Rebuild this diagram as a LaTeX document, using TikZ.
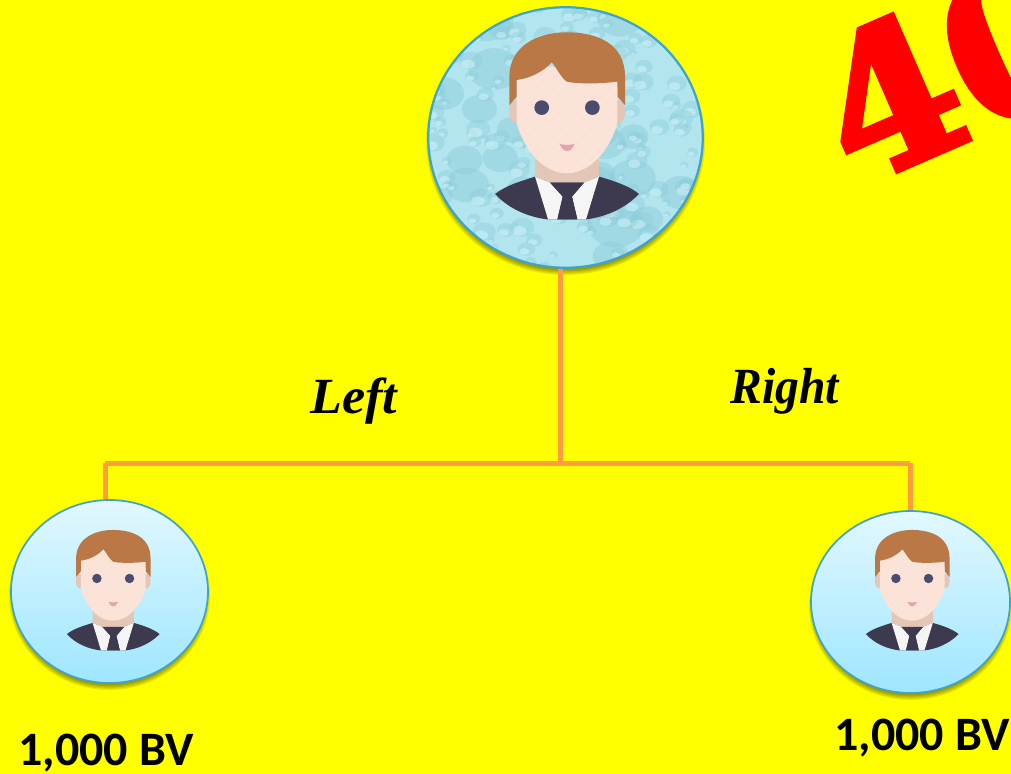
\documentclass[tikz,border=0pt]{standalone}
\usepackage{fontspec}
\usetikzlibrary{shapes.geometric}
\setmainfont{Liberation Serif}
\newfontfamily\bvfont{Carlito}
\newfontfamily\redfont[FakeBold=3]{DejaVu Serif}
\definecolor{pagey}{HTML}{FFFF00}
\definecolor{linkc}{HTML}{FF9C40}
\definecolor{rimc}{HTML}{3FA3CC}
\definecolor{waterbase}{HTML}{B2E5EE}
\definecolor{waterdark}{HTML}{8CCCDA}
\definecolor{waterlight}{HTML}{D2F3F8}
\definecolor{hairc}{HTML}{B97845}
\definecolor{skinc}{HTML}{FBE2D7}
\definecolor{neckc}{HTML}{E4C6B6}
\definecolor{eyec}{HTML}{4B4B70}
\definecolor{mouthc}{HTML}{E2A3B3}
\definecolor{suitc}{HTML}{3D3A50}
\definecolor{gradtop}{HTML}{E2F8FF}
\definecolor{gradbot}{HTML}{9EE6FF}
\tikzset{
  link/.style={draw=linkc,line width=3.75pt},
  bubble/.style={ellipse,inner sep=0pt,draw=rimc,line width=1.3pt},
  softbubble/.style={bubble,top color=gradtop,bottom color=gradbot},
  bvlabel/.style={font=\bvfont\bfseries\fontsize{36}{36}\selectfont,text=black,anchor=base,inner sep=0pt},
  sidelabel/.style={font=\bfseries\itshape\fontsize{38}{38}\selectfont,text=black,anchor=base west,inner sep=0pt},
}
\newcommand{\softshadow}[4]{%
  \foreach \g in {0,1,2,3,4}{%
    \fill[black,opacity=0.09] (#1,#2+4) ellipse [x radius=#3+2-\g*1.2,y radius=#4+3-\g*1.2];
  }%
}
\newcommand{\avatarfig}[3]{%
\begin{scope}[shift={(#1,#2)},x=#3,y=-#3]
\begin{scope}[shift={(-440,-400)}]
  \fill[neckc] (285,335) ellipse [x radius=18,y radius=34];
  \fill[neckc] (597,335) ellipse [x radius=18,y radius=34];
  \path[fill=suitc] (225,582) .. controls (260,555) and (305,543) .. (345,530) -- (537,530)
     .. controls (590,545) and (630,560) .. (657,582)
     .. controls (615,625) and (560,650) .. (500,658) -- (380,658)
     .. controls (320,650) and (265,625) .. (225,582) -- cycle;
  \fill[neckc] (345,455) -- (537,455) -- (537,530) -- (492,548) -- (390,548) -- (345,530) -- cycle;
  \fill[white!96!black] (345,530) -- (390,548) -- (428,590) -- (412,658) -- (384,658) -- cycle;
  \fill[white!96!black] (537,530) -- (492,548) -- (456,590) -- (472,658) -- (498,658) -- cycle;
  \fill[suitc] (390,548) -- (492,548) -- (456,590) -- (472,658) -- (412,658) -- (428,590) -- cycle;
  \begin{scope}
    \path[clip] (290,200) -- (592,200) -- (592,370) .. controls (570,450) and (510,520) .. (440,520)
       .. controls (370,520) and (312,450) .. (290,370) -- cycle;
    \fill[skinc] (280,190) rectangle (600,530);
    \foreach \k in {-12,...,16}{
      \draw[white,opacity=0.2,line width=1.8*#3] (240+\k*28,540) -- (240+\k*28+380,140);
    }
  \end{scope}
  \path[fill=hairc] (268,316) -- (268,230) .. controls (268,140) and (350,97) .. (440,97)
     .. controls (530,97) and (615,130) .. (615,230) -- (615,316) -- (593,290) -- (592,245)
     .. controls (540,252) and (470,252) .. (440,245)
     .. controls (420,230) and (405,195) .. (395,187)
     .. controls (370,215) and (330,235) .. (290,240) -- (290,290) -- cycle;
  \fill[eyec] (365,323) circle [radius=22];
  \fill[eyec] (517,323) circle [radius=22];
  \path[fill=mouthc] (419,432) .. controls (435,436) and (448,436) .. (463,432) .. controls (458,446) and (450,453) .. (441,453) .. controls (432,453) and (424,446) .. (419,432) -- cycle;
\end{scope}
\end{scope}%
}
\begin{document}
\begin{tikzpicture}[x=0.75pt,y=-0.75pt]
\useasboundingbox (0,0) rectangle (1011,774);
\fill[pagey] (0,0) rectangle (1011,774);

% red stamp
\begin{scope}
\clip (0,0) rectangle (1011,774);
\node[font=\redfont\bfseries\fontsize{146}{146}\selectfont,text=red,rotate=23.5,anchor=base west,inner sep=0pt] (stamp) at (855,189) {40};
\end{scope}

\coordinate (hub) at (560,463);
\coordinate (lefthub) at (105,463);
\coordinate (righthub) at (910,463);

\softshadow{565.5}{137.5}{137.5}{130.5}
\softshadow{109.5}{591.5}{98.5}{91.5}
\softshadow{910.5}{602}{99.5}{91}

\node[bubble,minimum width=206.25pt,minimum height=195.75pt] (top) at (565.5,137.5) {};
\node[softbubble,minimum width=147.75pt,minimum height=137.25pt] (left) at (109.5,591.5) {};
\node[softbubble,minimum width=149.25pt,minimum height=136.5pt] (right) at (910.5,602) {};

\draw[link] (hub) -- (hub |- top.south);
\draw[link] (lefthub) -- (righthub);
\draw[link] (lefthub) -- (lefthub |- left.north);
\draw[link] (righthub) -- (righthub |- right.north);

\begin{scope}
  \clip (565.5,137.5) ellipse [x radius=137,y radius=130];
  \fill[waterbase] (420,0) rectangle (710,275);
  \pgfmathsetseed{11}
  \foreach \i in {1,...,28}{
    \pgfmathsetmacro{\dx}{430+rnd*275}
    \pgfmathsetmacro{\dy}{8+rnd*262}
    \pgfmathsetmacro{\dr}{12+rnd*18}
    \fill[waterdark,opacity=0.45] (\dx,\dy) ellipse [x radius=\dr,y radius=\dr*0.8];
  }
  \foreach \i in {1,...,190}{
    \pgfmathsetmacro{\dx}{430+rnd*275}
    \pgfmathsetmacro{\dy}{8+rnd*262}
    \pgfmathsetmacro{\dr}{3+rnd*9}
    \fill[waterdark,opacity=0.4] (\dx,\dy) ellipse [x radius=\dr,y radius=\dr*0.8];
    \fill[waterlight,opacity=0.55] (\dx-\dr*0.25,\dy+\dr*0.3) ellipse [x radius=\dr*0.6,y radius=\dr*0.4];
  }
\end{scope}
\draw[rimc,line width=1.3pt] (565.5,137.5) ellipse [x radius=137,y radius=130];

\avatarfig{566.7}{133.3}{0.25pt}
\avatarfig{113}{595}{0.161pt}
\avatarfig{912}{595}{0.161pt}

\node[sidelabel,xscale=1.03] (lefttext) at (310,413) {Left};
\node[sidelabel,xscale=0.94] (righttext) at (730,403) {Right};
\node[bvlabel] (leftbv) at (106,765) {1,000 BV};
\node[bvlabel] (rightbv) at (922,750) {1,000 BV};
\end{tikzpicture}
\end{document}
